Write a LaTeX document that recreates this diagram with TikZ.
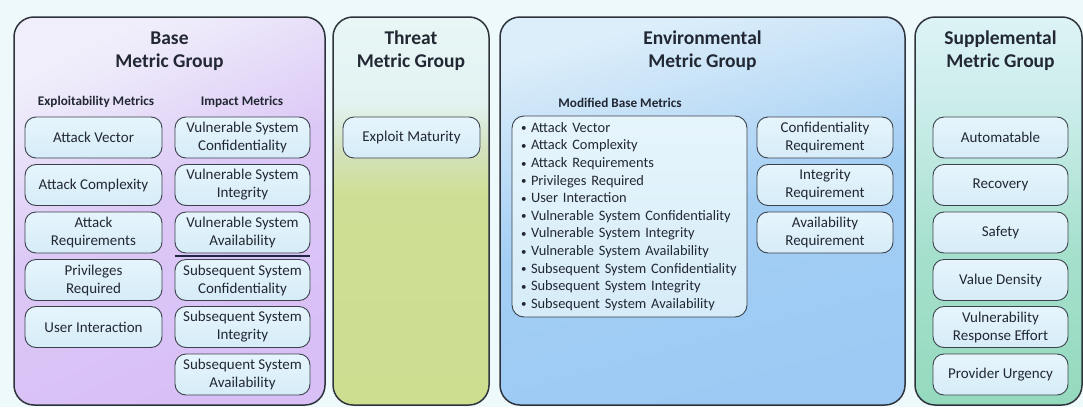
\documentclass[tikz,border=0pt]{standalone}
\usepackage{fontspec}
\setmainfont{Carlito}

\definecolor{bg}{HTML}{EEF9FB}
\definecolor{panelline}{HTML}{2E333C}
\definecolor{boxline}{HTML}{3C424C}
\definecolor{boxtop}{HTML}{E6F5FC}
\definecolor{boxbot}{HTML}{D6ECF8}
\definecolor{txt}{HTML}{222833}
\definecolor{sep}{HTML}{1E2740}

\definecolor{baseA}{HTML}{D8BFF6}
\definecolor{baseB}{HTML}{DCC8F6}
\definecolor{baseC}{HTML}{ECE8FA}
\definecolor{baseD}{HTML}{F0EEFB}
\definecolor{thrA}{HTML}{CDDE91}
\definecolor{thrB}{HTML}{CEDF95}
\definecolor{thrC}{HTML}{D3E2BE}
\definecolor{thrD}{HTML}{E3F3F2}
\definecolor{thrE}{HTML}{E8F6F6}
\definecolor{envA}{HTML}{9CCAF4}
\definecolor{envB}{HTML}{A3CEF4}
\definecolor{envC}{HTML}{C4E0F7}
\definecolor{envD}{HTML}{DCEEFA}
\definecolor{supA}{HTML}{94DABE}
\definecolor{supB}{HTML}{A6E0CD}
\definecolor{supC}{HTML}{C8ECE8}
\definecolor{supD}{HTML}{DDF3F6}

% Panel backgrounds: vertical blends, listed bottom (25bp) to top (75bp)
\pgfdeclareverticalshading{baseshade}{100bp}{%
  color(0bp)=(baseA); color(25bp)=(baseA);
  color(52bp)=(baseB); color(70bp)=(baseC);
  color(75bp)=(baseD); color(100bp)=(baseD)}
\pgfdeclareverticalshading{threatshade}{100bp}{%
  color(0bp)=(thrA); color(25bp)=(thrA);
  color(52bp)=(thrB); color(58bp)=(thrC);
  color(64bp)=(thrD); color(75bp)=(thrE);
  color(100bp)=(thrE)}
\pgfdeclareverticalshading{envshade}{100bp}{%
  color(0bp)=(envA); color(25bp)=(envA);
  color(50bp)=(envB); color(64bp)=(envC);
  color(75bp)=(envD); color(100bp)=(envD)}
\pgfdeclareverticalshading{suppshade}{100bp}{%
  color(0bp)=(supA); color(25bp)=(supA);
  color(45bp)=(supB); color(62bp)=(supC);
  color(75bp)=(supD); color(100bp)=(supD)}

% small list bullet
\newcommand{\itm}{\makebox[10pt][l]{\raisebox{0.5pt}{\fontsize{11}{11}\selectfont\textbullet}}}

\begin{document}
\begin{tikzpicture}[x=1pt,y=-1pt,
  panel/.style={draw=panelline, line width=1.5pt, rounded corners=20pt,
    inner sep=0pt, outer sep=0pt, minimum height=388pt},
  metric/.style={draw=boxline, line width=0.9pt, rounded corners=11pt,
    top color=boxtop, bottom color=boxbot, minimum height=41pt,
    inner sep=1pt, align=center, text=txt,
    font=\fontsize{15}{18}\selectfont},
  grouptitle/.style={align=center, text=txt,
    font=\fontsize{19.5}{23}\selectfont\bfseries},
  subhead/.style={text=txt, font=\fontsize{13.2}{15}\selectfont\bfseries},
  sepline/.style={draw=sep, line width=1.6pt}]

\useasboundingbox[fill=bg] (0,0) rectangle (1083,407);

% ---------- group panels ----------
\node[panel, minimum width=311pt, shading=baseshade, shading angle=25] (base)   at (169.5,211) {};
\node[panel, minimum width=156pt, shading=threatshade] (threat) at (411,211)   {};
\node[panel, minimum width=405pt, shading=envshade, shading angle=15] (env) at (702.5,211) {};
\node[panel, minimum width=167pt, shading=suppshade] (supp) at (998.5,211) {};

% ---------- titles ----------
\node[grouptitle] (tbase)   at (169.5,51)  {Base\\Metric Group};
\node[grouptitle] (tthreat) at (411,51)    {Threat\\Metric Group};
\node[grouptitle] (tenv)    at (702.5,51)  {Environmental\\Metric Group};
\node[grouptitle] (tsupp)   at (1000.5,51) {Supplemental\\Metric Group};

\node[subhead] (hexp) at (96,102)  {Exploitability Metrics};
\node[subhead] (himp) at (242,102) {Impact Metrics};
\node[subhead] (hmod) at (620,103) {Modified Base Metrics};

% ---------- base: exploitability ----------
\begin{scope}[every node/.append style={metric, minimum width=137pt}]
\node (av) at (93.5,137.5) {Attack Vector};
\node (ac) at (93.5,185)   {Attack Complexity};
\node (ar) at (93.5,232.5) {Attack\\Requirements};
\node (pr) at (93.5,280)   {Privileges\\Required};
\node (ui) at (93.5,327)   {User Interaction};
\end{scope}

% ---------- base: impact ----------
\begin{scope}[every node/.append style={metric, minimum width=135pt}]
\node (vsc) at (242.5,137.5) {Vulnerable System\\Confidentiality};
\node (vsi) at (242.5,185)   {Vulnerable System\\Integrity};
\node (vsa) at (242.5,232.5) {Vulnerable System\\Availability};
\node (ssc) at (242.5,280)   {Subsequent System\\Confidentiality};
\node (ssi) at (242.5,327)   {Subsequent System\\Integrity};
\node (ssa) at (242.5,374.5) {Subsequent System\\Availability};
\end{scope}
\draw[sepline] ([yshift=-2.5pt]vsa.south west) -- ([yshift=-2.5pt]vsa.south east);

% ---------- threat ----------
\node[metric, minimum width=137pt] (em) at (411.5,137.5) {Exploit Maturity};

% ---------- environmental ----------
\node[metric, minimum width=235pt, minimum height=201pt, rounded corners=12pt,
  text width=217pt, inner xsep=9pt, align=left,
  font=\fontsize{14.4}{17.6}\selectfont] (mbm) at (629.5,216.5)
  {\itm Attack Vector\\
   \itm Attack Complexity\\
   \itm Attack Requirements\\
   \itm Privileges Required\\
   \itm User Interaction\\
   \itm Vulnerable System Confidentiality\\
   \itm Vulnerable System Integrity\\
   \itm Vulnerable System Availability\\
   \itm Subsequent System Confidentiality\\
   \itm Subsequent System Integrity\\
   \itm Subsequent System Availability};

\begin{scope}[every node/.append style={metric, minimum width=136pt}]
\node (cr) at (825,137.5) {Confidentiality\\Requirement};
\node (ir) at (825,185)   {Integrity\\Requirement};
\node (ra) at (825,232.5) {Availability\\Requirement};
\end{scope}

% ---------- supplemental ----------
\begin{scope}[every node/.append style={metric, minimum width=135pt}]
\node (au) at (1000.5,137.5) {Automatable};
\node (re) at (1000.5,185)   {Recovery};
\node (sa) at (1000.5,232.5) {Safety};
\node (vd) at (1000.5,280)   {Value Density};
\node (vr) at (1000.5,327)   {Vulnerability\\Response Effort};
\node (pu) at (1000.5,374.5) {Provider Urgency};
\end{scope}
\end{tikzpicture}
\end{document}
